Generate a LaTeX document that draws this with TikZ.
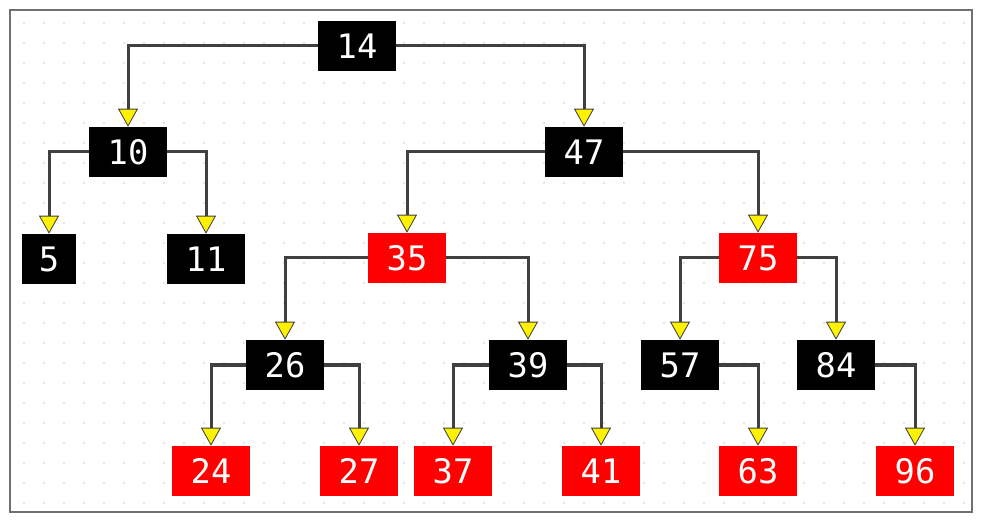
\documentclass[tikz,border=0pt]{standalone}
\usepackage{fontspec}
\usepackage{xcolor}
\usetikzlibrary{arrows.meta}
\newfontfamily\keyfont{DejaVu Sans Mono}
\definecolor{treeRed}{RGB}{255,0,0}
\definecolor{linkGray}{RGB}{64,64,64}
\definecolor{frameGray}{RGB}{112,112,112}
\definecolor{dotGray}{RGB}{200,200,200}

\begin{document}
\begin{tikzpicture}[x=0.025cm,y=-0.025cm,
  key/.style={text=white,font=\keyfont\fontsize{24}{26}\selectfont,minimum width=1.95cm,minimum height=1.25cm,inner sep=0pt},
  blk/.style={key,fill=black},
  rd/.style={key,fill=treeRed},
  link/.style={draw=linkGray,line width=0.075cm,-{Triangle[width=0.5cm,length=0.45cm,fill=yellow,line width=0.6pt]}}]
\useasboundingbox (0,0) rectangle (983,523);
% dotted background and frame
\foreach \i in {0,...,47}
  \foreach \j in {0,...,24}
    \fill[dotGray] (24+20*\i,23+20*\j) circle (0.022cm);
\draw[frameGray,line width=0.05cm] (10,10) rectangle (972,512);

% nodes
\node[blk] (n14) at (357,46) {14};
\node[blk] (n10) at (128,152) {10};
\node[blk] (n47) at (584,152) {47};
\node[blk,minimum width=1.35cm] (n5) at (49,259) {5};
\node[blk] (n11) at (206,259) {11};
\node[rd] (n35) at (407,258) {35};
\node[rd] (n75) at (758,258) {75};
\node[blk] (n26) at (285,365) {26};
\node[blk] (n39) at (528,365) {39};
\node[blk] (n57) at (680,365) {57};
\node[blk] (n84) at (836,365) {84};
\node[rd] (n24) at (211,471) {24};
\node[rd] (n27) at (359,471) {27};
\node[rd] (n37) at (453,471) {37};
\node[rd] (n41) at (601,471) {41};
\node[rd] (n63) at (758,471) {63};
\node[rd] (n96) at (915,471) {96};

% links
\draw[link] (n14.west) -| (n10.north);
\draw[link] (n14.east) -| (n47.north);
\draw[link] (n10.west) -| (n5.north);
\draw[link] (n10.east) -| (n11.north);
\draw[link] (n47.west) -| (n35.north);
\draw[link] (n47.east) -| (n75.north);
\draw[link] (n35.west) -| (n26.north);
\draw[link] (n35.east) -| (n39.north);
\draw[link] (n75.west) -| (n57.north);
\draw[link] (n75.east) -| (n84.north);
\draw[link] (n26.west) -| (n24.north);
\draw[link] (n26.east) -| (n27.north);
\draw[link] (n39.west) -| (n37.north);
\draw[link] (n39.east) -| (n41.north);
\draw[link] (n57.east) -| (n63.north);
\draw[link] (n84.east) -| (n96.north);
\end{tikzpicture}
\end{document}
